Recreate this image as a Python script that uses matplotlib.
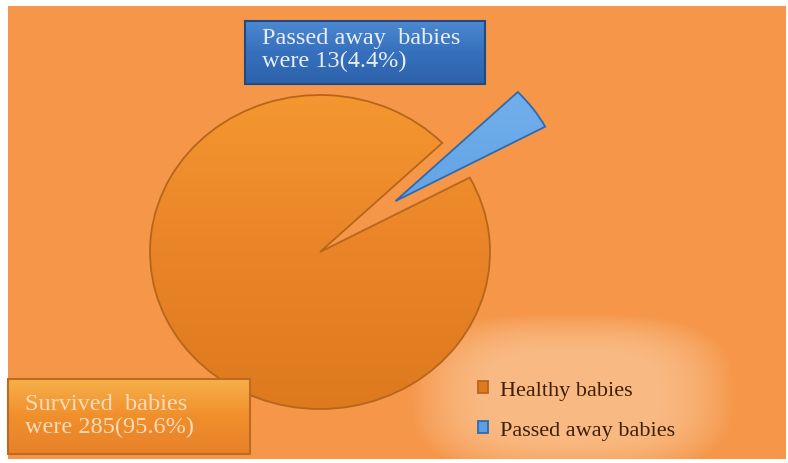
import numpy as np
import matplotlib.pyplot as plt
from matplotlib.patches import Rectangle
from matplotlib.colors import LinearSegmentedColormap

plt.rcParams['font.family'] = ['Liberation Serif', 'DejaVu Serif']

labels = ["Healthy babies", "Passed away babies"]
counts = [285, 13]
box_texts = ["Survived  babies\nwere 285(95.6%)", "Passed away  babies\nwere 13(4.4%)"]

W, H = 788, 464
fig = plt.figure(figsize=(W / 100, H / 100), dpi=100)
fig.patch.set_facecolor('white')

# background, with the soft light patch behind the legend
bg = fig.add_axes([0, 0, 1, 1], zorder=0)
bg.set_xlim(0, W)
bg.set_ylim(H, 0)
bg.axis('off')
yy, xx = np.mgrid[7:460, 8:786]
base = np.array([245, 150, 72]) / 255
glow = np.array([249, 185, 130]) / 255
d = (np.abs(xx - 572) / 150) ** 3 + (np.abs(yy - 395) / 75) ** 3
w = np.clip((1.3 - d) / 1.1, 0, 1)[..., None]
img = base * (1 - w) + glow * w
bg.imshow(img, extent=(8, 786, 460, 7), aspect='auto', interpolation='bilinear')

# pie (slightly squashed, like the original)
cx, cy, rx, ry = 320, 253, 170, 157
lim = 1.6
ax = fig.add_axes([(cx - lim * rx) / W, (H - cy - lim * ry) / H, 2 * lim * rx / W, 2 * lim * ry / H], zorder=1)
wedges, _ = ax.pie(counts, colors=['#ee8a2b', '#5b9fe2'], startangle=44, explode=[0, 0.55],
                   wedgeprops=dict(linewidth=1.3))
wedges[0].set_edgecolor('#b8651c')
wedges[1].set_edgecolor('#2f6aae')
ax.set_aspect('auto')
ax.axis('off')
ax.patch.set_alpha(0)

grad = np.linspace(0, 1, 256)[:, None]
cm_or = LinearSegmentedColormap.from_list('or', ['#f49730', '#e98428', '#de7a1e'])
im = ax.imshow(grad, cmap=cm_or, extent=(-1, 1, -1, 1), aspect='auto', zorder=1)
im.set_clip_path(wedges[0])
wedges[0].set_zorder(2)
wedges[0].set_facecolor('none')
cm_bl = LinearSegmentedColormap.from_list('bl', ['#78b4ee', '#4d93dc'])
off = 0.55
ang = np.deg2rad(36)
im2 = ax.imshow(grad, cmap=cm_bl, extent=(-1 + off * np.cos(ang), 1 + off * np.cos(ang),
                                          -1 + off * np.sin(ang), 1 + off * np.sin(ang)),
                aspect='auto', zorder=1)
im2.set_clip_path(wedges[1])
wedges[1].set_zorder(2)
wedges[1].set_facecolor('none')
ax.set_xlim(-lim, lim)
ax.set_ylim(-lim, lim)

# boxes and legend on top
top = fig.add_axes([0, 0, 1, 1], zorder=3)
top.axis('off')
top.patch.set_alpha(0)

cm_box_bl = LinearSegmentedColormap.from_list('bb', ['#4d88d0', '#3670bd', '#2d62aa'])
top.imshow(grad, cmap=cm_box_bl, extent=(245, 485, 85, 22), aspect='auto')
top.add_patch(Rectangle((245, 22), 240, 63, facecolor='none', edgecolor='#1f4a85', linewidth=1.5))
top.text(262, 50, box_texts[1], color='#e8eef8', fontsize=17.5, va='center', ha='left', linespacing=1.15)

cm_box_or = LinearSegmentedColormap.from_list('bo', ['#f7b04a', '#f08f2c', '#e8812a'])
top.imshow(grad, cmap=cm_box_or, extent=(8, 250, 455, 380), aspect='auto')
top.add_patch(Rectangle((8, 380), 242, 75, facecolor='none', edgecolor='#c06a20', linewidth=1.5))
top.text(25, 416, box_texts[0], color='#fcdcb8', fontsize=17.5, va='center', ha='left', linespacing=1.15)
top.set_xlim(0, W)
top.set_ylim(H, 0)

fig.legend(wedges, labels, loc='upper left', bbox_to_anchor=(458 / W, 1 - 362 / H), frameon=False,
           fontsize=16, labelcolor='#3e2008', handlelength=0.45, handleheight=0.45,
           handletextpad=0.55, labelspacing=0.95)
leg = fig.legends[0]
for h, c in zip(leg.legend_handles, ['#e07a20', '#5b9fe2']):
    h.set_facecolor(c)

fig.savefig('out.png', dpi=100)
